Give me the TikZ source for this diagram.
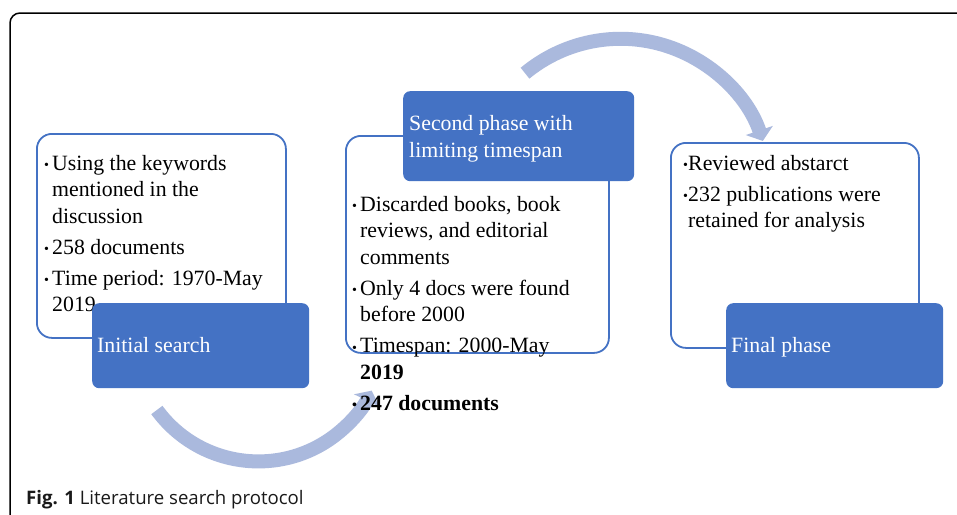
\documentclass[tikz,border=0pt]{standalone}
\usepackage{fontspec}
\setmainfont{Liberation Serif}
\newfontfamily\capfont{Open Sans}
\usetikzlibrary{arrows.meta}
\definecolor{officeblue}{HTML}{4472C4}
\definecolor{arrowblue}{HTML}{AAB9DD}
\newcommand\bulitem[1][8pt]{\makebox[#1][l]{\raisebox{0.5pt}{\fontsize{14}{14}\selectfont •}}}
\newcommand\topstrut{\rule{0pt}{16pt}}
\begin{document}
\begin{tikzpicture}[x=1pt,y=1pt,
  textbox/.style={draw=officeblue, line width=1.8pt, fill=white, rounded corners=15pt, anchor=north west, inner sep=0pt},
  bluebox/.style={fill=officeblue, rounded corners=7pt, anchor=north west, inner sep=0pt},
  flow/.style={draw=arrowblue, line width=14pt, -{Triangle[width=28pt,length=11pt]}},
  body/.style={font=\fontsize{21.8}{26.5}\selectfont, align=left, inner sep=0pt, anchor=north west, text=black},
  btext/.style={font=\fontsize{21.8}{27}\selectfont, align=left, inner sep=0pt, anchor=north west, text=white},
]
\useasboundingbox (0,0) rectangle (957,-514);
\clip (0,0) rectangle (957,-514);
\fill[white] (0,0) rectangle (957,-514);
\draw[line width=1.5pt, rounded corners=10pt] (10,-13) rectangle (985,-545);

% curved arrows
\coordinate (c1) at (257.6,-336);
\coordinate (c2) at (620,-188);
\draw[flow] (c1) ++(216.3:125) arc[start angle=216.3, end angle=334, radius=126];
\draw[flow] (c2) ++(129.6:149) arc[start angle=129.6, end angle=18.6, radius=150];

% box 1
\node[textbox, minimum width=249pt, minimum height=204pt] (w1) at (36,-133) {};
\node[body] (t1) at (44,-154) {\topstrut\bulitem Using the keywords\\
\hspace*{8pt}mentioned in the\\
\hspace*{8pt}discussion\\[4.5pt]
\bulitem 258 documents\\[4.5pt]
\bulitem Time period: 1970-May\\
\hspace*{8pt}2019};
\node[bluebox, minimum width=217pt, minimum height=85pt] (b1) at (92,-303) {};
\node[btext] (l1) at (97,-336) {\topstrut Initial search};

% box 2
\node[textbox, minimum width=263pt, minimum height=217pt] (w2) at (345,-135) {};
\node[bluebox, minimum width=231pt, minimum height=90pt] (b2) at (403,-91) {};
\node[btext] (l2) at (409,-114) {\topstrut Second phase with\\limiting timespan};
\node[body] (t2) at (352,-195) {\topstrut\bulitem Discarded books, book\\
\hspace*{8pt}reviews, and editorial\\
\hspace*{8pt}comments\\[4.5pt]
\bulitem Only 4 docs were found\\
\hspace*{8pt}before 2000\\[4.5pt]
\bulitem Timespan: 2000-May\\
\hspace*{8pt}\textbf{2019}\\[4.5pt]
\textbf{\bulitem 247 documents}};

% box 3
\node[textbox, minimum width=248pt, minimum height=205pt] (w3) at (670,-142) {};
\node[body] (t3) at (683,-154) {\topstrut\bulitem[5pt]Reviewed abstarct\\[4.5pt]
\bulitem[5pt]232 publications were\\
\hspace*{5pt}retained for analysis};
\node[bluebox, minimum width=217pt, minimum height=85pt] (b3) at (726,-303) {};
\node[btext] (l3) at (731,-336) {\topstrut Final phase};

% caption
\node[anchor=base west, inner sep=0pt, font=\capfont\fontsize{18.6}{18.6}\selectfont, text=black!90] (cap) at (26,-504) {\textbf{Fig. 1} Literature search protocol};
\end{tikzpicture}
\end{document}
